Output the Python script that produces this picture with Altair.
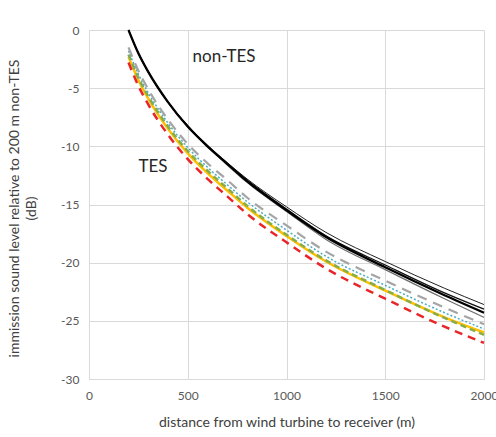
import altair as alt
import pandas as pd

# distance from wind turbine to receiver (m)
distance = [200, 250, 300, 400, 500, 600, 700, 800, 1000, 1200, 1500, 1800, 2000]

# non-TES curves (dB relative to 200 m non-TES)
non_tes_a = [0, -2.0, -3.6, -6.2, -8.2, -9.9, -11.4, -12.8, -15.2, -17.4, -19.9, -22.2, -23.6]
non_tes_b = [0, -2.0, -3.6, -6.2, -8.3, -10.0, -11.5, -12.9, -15.4, -17.7, -20.2, -22.6, -24.0]
non_tes_c = [0, -2.0, -3.6, -6.2, -8.3, -10.0, -11.5, -13.0, -15.5, -17.8, -20.4, -22.8, -24.3]
non_tes_d = [0, -2.0, -3.6, -6.2, -8.3, -10.0, -11.6, -13.1, -15.6, -18.0, -20.6, -23.1, -24.7]

# TES curves
tes_grey = [-1.5, -3.5, -5.1, -7.7, -9.8, -11.45, -12.9, -14.4, -16.8, -19.05, -21.55, -23.85, -25.3]
tes_blue = [-1.8, -3.8, -5.4, -8.0, -10.1, -11.8, -13.3, -14.75, -17.2, -19.45, -21.95, -24.3, -25.7]
tes_green = [-2.1, -4.1, -5.7, -8.3, -10.4, -12.1, -13.6, -15.1, -17.6, -19.8, -22.35, -24.75, -26.2]
tes_yellow = [-2.3, -4.3, -5.9, -8.5, -10.6, -12.3, -13.8, -15.25, -17.7, -19.9, -22.4, -24.7, -26.0]
tes_red = [-2.8, -4.8, -6.4, -9.0, -11.1, -12.8, -14.3, -15.8, -18.25, -20.5, -23.1, -25.5, -26.9]

# annotations
label_text = ["non-TES", "TES"]
label_x = [684, 324]
label_y = [-2.3, -11.8]

x_ticks = [0, 500, 1000, 1500, 2000]
y_ticks = [0, -5, -10, -15, -20, -25, -30]

series = {
    "non_tes_a": non_tes_a, "non_tes_b": non_tes_b, "non_tes_c": non_tes_c, "non_tes_d": non_tes_d,
    "tes_grey": tes_grey, "tes_blue": tes_blue, "tes_green": tes_green,
    "tes_yellow": tes_yellow, "tes_red": tes_red,
}
rows = []
for name, vals in series.items():
    for d, v in zip(distance, vals):
        rows.append({"series": name, "distance": d, "level": v})
df = pd.DataFrame(rows)

FONT = "Lato"
GREY_TXT = "#595959"

x_enc = alt.X("distance:Q",
              scale=alt.Scale(domain=[0, 2000], nice=False),
              axis=alt.Axis(values=x_ticks, format="d", title="distance from wind turbine to receiver (m)",
                            grid=True, gridColor="#d9d9d9", domain=False, ticks=False, labelFlush=False,
                            labelPadding=11, labelFontSize=12, labelColor=GREY_TXT, labelFont=FONT,
                            titleFontSize=14, titleColor="#404040", titleFont=FONT, titleFontWeight="normal",
                            titlePadding=14))
y_enc = alt.Y("level:Q",
              scale=alt.Scale(domain=[-30, 0], nice=False),
              axis=alt.Axis(values=y_ticks,
                            labelExpr="datum.value < 0 ? '-' + format(-datum.value, 'd') : format(datum.value, 'd')",
                            title=["immission sound level relative to 200 m non-TES", "(dB)"],
                            grid=True, gridColor="#d9d9d9", domain=True, domainColor="#d9d9d9", ticks=False,
                            labelPadding=10, labelFontSize=12, labelColor=GREY_TXT, labelFont=FONT,
                            titleFontSize=14, titleColor="#404040", titleFont=FONT, titleFontWeight="normal",
                            titleX=-75, titleY=178, titleAngle=270, titleBaseline="middle",
                            titleLineHeight=17))

styles = [
    ("tes_yellow", "#ffc000", 2.5, None),
    ("tes_green", "#86ad4a", 2.5, [6, 4]),
    ("tes_red", "#e8262a", 2.5, [8, 6]),
    ("tes_blue", "#4bacc6", 1.5, [2, 2]),
    ("tes_grey", "#a5a5a5", 2.2, [10, 7]),
    ("non_tes_d", "#6b6b6b", 1.2, None),
    ("non_tes_a", "#222222", 1.0, None),
    ("non_tes_b", "#111111", 1.3, None),
    ("non_tes_c", "#000000", 2.3, None),
]

layers = []
for name, color, width, dash in styles:
    kw = dict(color=color, strokeWidth=width, interpolate="monotone")
    if dash:
        kw["strokeDash"] = dash
    layers.append(
        alt.Chart(df).transform_filter(alt.datum.series == name).mark_line(**kw).encode(x=x_enc, y=y_enc)
    )

labels_df = pd.DataFrame({"text": label_text, "distance": label_x, "level": label_y})
text_layer = alt.Chart(labels_df).mark_text(font=FONT, fontSize=17, color="#262626", align="center",
                                             baseline="middle").encode(
    x=alt.X("distance:Q"), y=alt.Y("level:Q"), text="text:N")

chart = alt.layer(*layers, text_layer).properties(
    width=395, height=349,
    autosize=alt.AutoSizeParams(type="none"),
    padding={"left": 89, "top": 30, "right": 12, "bottom": 58},
    background="white",
).configure_view(stroke=None)

chart.save("out.html", embed_options={"renderer": "svg", "actions": False})
